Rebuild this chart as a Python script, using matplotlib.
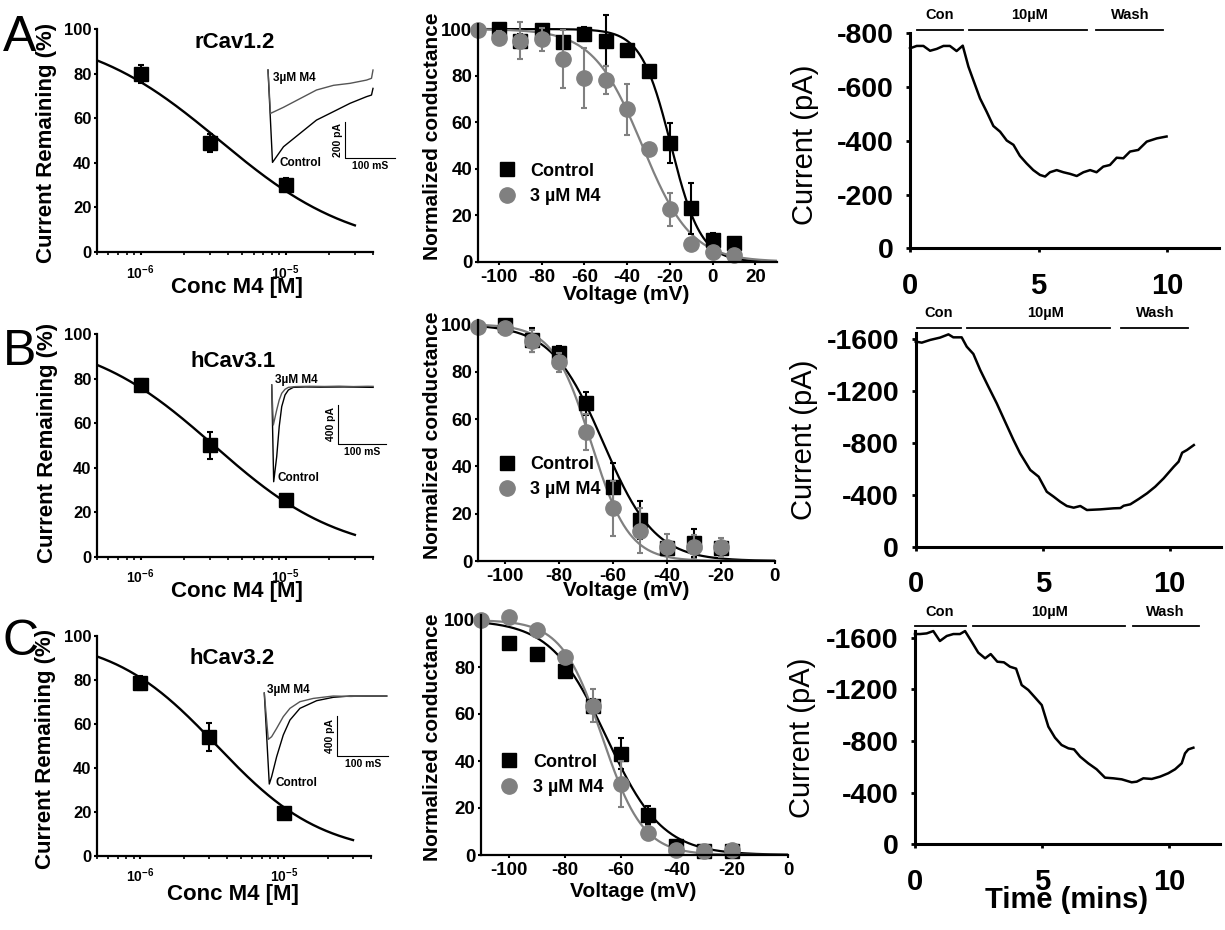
import numpy as np
import matplotlib
matplotlib.use('Agg')
import matplotlib.pyplot as plt
from matplotlib.ticker import LogLocator, FuncFormatter, NullFormatter
from matplotlib.patches import Rectangle

plt.rcParams['font.family'] = ['Liberation Sans', 'DejaVu Sans']
plt.rcParams['font.weight'] = 'bold'
plt.rcParams['axes.unicode_minus'] = False
plt.rcParams['mathtext.fontset'] = 'custom'
plt.rcParams['mathtext.rm'] = 'Liberation Sans:bold'
plt.rcParams['mathtext.bf'] = 'Liberation Sans:bold'

W, H = 1225, 930
GRAY = '#808080'

# ========================
# dose-response (left column)
# ========================
conc = [1e-6, 3e-6, 1e-5]
remain_A = [80, 49, 30]
remain_A_err = [4, 4, 3]
remain_B = [77, 50, 25.5]
remain_B_err = [3, 6, 1]
remain_C = [78.5, 54, 19.5]
remain_C_err = [3, 6.5, 1.5]
hill_A = (3.5e-6, 0.93)     # IC50, nH
hill_B = (3.2e-6, 0.985)
hill_C = (3.4e-6, 1.18)
channels = ['rCav1.2', 'hCav3.1', 'hCav3.2']

# inset traces (ms, pA)
ins_A_m4_t = [0, 5, 31, 64, 97, 131, 164, 197, 207, 210]
ins_A_m4 = [0, -241, -207, -159, -111, -85, -74, -56, -46, 0]
ins_A_ctl_t = [0, 9, 31, 64, 97, 131, 164, 197, 207, 210]
ins_A_ctl = [0, -513, -426, -352, -278, -231, -185, -148, -139, -102]
ins_B_m4_t = [0, 3.4, 10.4, 15.6, 20.8, 27.7, 34.7, 50, 80, 110, 140, 170, 200, 211]
ins_B_m4 = [10, -400, -246, -144, -75, -34, -14, -6, -3, -5, -2, -6, -3, -4]
ins_B_ctl_t = [0, 4.1, 10.4, 15.6, 20.8, 27.7, 34.7, 45, 70, 100, 150, 211]
ins_B_ctl = [10, -982, -725, -417, -212, -92, -41, -14, -10, -12, -10, -14]
ins_C_m4_t = [0, 7.8, 14.4, 24.2, 37.2, 50.3, 69.9, 96, 135, 170, 200, 240]
ins_C_m4 = [30, -437, -410, -326, -208, -124, -57, -24, 0, -4, 2, 0]
ins_C_ctl_t = [0, 9.8, 14.4, 24.2, 37.2, 50.3, 69.9, 102.6, 135, 168, 240]
ins_C_ctl = [30, -887, -813, -612, -393, -242, -124, -47, -13, 0, 0]

# ========================
# activation (middle column)
# ========================
ctl_v_A = [-100, -90, -80, -70, -60, -50, -40, -30, -20, -10, 0, 10]
ctl_g_A = [100, 95, 99.6, 94.6, 98, 95, 91, 82, 51, 23, 9.5, 8]
ctl_e_A = [2, 3, 2, 2, 3, 11, 2, 2, 8.5, 11, 3, 1]
m4_v_A = [-110, -100, -90, -80, -70, -60, -50, -40, -30, -20, -10, 0, 10]
m4_g_A = [99.6, 96, 95, 95.6, 87, 79, 78, 65.5, 48.5, 22.5, 7.5, 4, 3]
m4_e_A = [1, 3, 8, 5, 12.5, 13, 6, 11, 1, 7, 1, 1, 1]
ctl_v_B = [-100, -90, -80, -70, -60, -50, -40, -30, -20]
ctl_g_B = [99.7, 93.4, 87.7, 66.6, 31.4, 17.3, 5.4, 7.5, 5.4]
ctl_e_B = [2, 5, 3, 5, 10, 8, 2, 6, 2]
m4_v_B = [-110, -100, -90, -80, -70, -60, -50, -40, -30, -20]
m4_g_B = [99, 98.5, 93, 84, 54.5, 22.3, 12.8, 5.8, 5.8, 5.8]
m4_e_B = [1, 2, 4.6, 4, 7.7, 11.7, 9.5, 5.6, 5, 4]
ctl_v_C = [-100, -90, -80, -70, -60, -50, -40, -30, -20]
ctl_g_C = [90, 85.5, 78.3, 63.4, 43, 17, 4, 1.7, 1.8]
ctl_e_C = [1, 2, 2, 3, 6.6, 4, 1, 1, 1]
m4_v_C = [-110, -100, -90, -80, -70, -60, -50, -40, -30, -20]
m4_g_C = [100, 101.1, 95.7, 84.1, 63.5, 30.2, 9.5, 2.1, 1.5, 2]
m4_e_C = [1, 1, 1, 2, 7, 9.8, 3, 1, 1, 1]
boltz_ctl = [(-19.5, 7.0), (-63.5, 9.6), (-65.0, 10.0)]    # V50, k
boltz_m4 = [(-33.0, 11.5), (-68.0, 7.0), (-66.5, 7.3)]

# ========================
# time course (right column)
# ========================
tA = [0, 0.26, 0.52, 0.78, 1.04, 1.3, 1.55, 1.81, 2.05, 2.27, 2.46, 2.72, 2.98, 3.24, 3.5,
      3.76, 4.02, 4.27, 4.53, 4.79, 5.05, 5.25, 5.44, 5.7, 5.96, 6.22, 6.48, 6.74, 7.0, 7.25,
      7.51, 7.77, 8.03, 8.29, 8.55, 8.87, 9.2, 9.59, 9.97]
iA = [-744, -753, -753, -735, -742, -753, -753, -734, -754, -676, -626, -558, -508, -455, -434,
      -401, -385, -344, -316, -291, -273, -267, -283, -291, -283, -277, -269, -283, -291, -283,
      -304, -310, -337, -335, -360, -366, -397, -409, -416]
tB = [0, 0.24, 0.57, 0.96, 1.29, 1.48, 1.81, 2.01, 2.27, 2.54, 2.86, 3.19, 3.52, 3.85, 4.11,
      4.51, 4.84, 5.16, 5.43, 5.69, 5.95, 6.22, 6.48, 6.74, 7.27, 7.79, 8.06, 8.19, 8.45, 8.78,
      9.11, 9.43, 9.76, 10.16, 10.35, 10.49, 10.68, 10.95]
iB = [-1582, -1574, -1595, -1613, -1638, -1615, -1615, -1543, -1487, -1363, -1235, -1106, -964,
      -823, -720, -592, -540, -424, -386, -347, -314, -301, -314, -283, -288, -296, -298, -316,
      -327, -368, -412, -463, -527, -617, -656, -725, -746, -784]
tC = [0, 0.2, 0.46, 0.72, 0.98, 1.25, 1.51, 1.77, 1.97, 2.23, 2.49, 2.76, 2.98, 3.24, 3.5,
      3.74, 3.98, 4.2, 4.46, 4.72, 4.99, 5.25, 5.51, 5.77, 6.04, 6.26, 6.5, 6.82, 7.15, 7.48,
      7.81, 8.14, 8.53, 8.73, 8.99, 9.32, 9.65, 9.97, 10.24, 10.5, 10.63, 10.76, 10.96]
iC = [-1628, -1628, -1633, -1651, -1574, -1613, -1628, -1628, -1651, -1569, -1484, -1440, -1473,
      -1414, -1409, -1375, -1360, -1233, -1195, -1138, -1078, -911, -826, -769, -743, -735, -679,
      -627, -581, -516, -511, -503, -480, -485, -511, -506, -524, -550, -581, -627, -704, -735, -748]
cond_labels = ['Con', '10µM', 'Wash']
cond_span_A = [(0.26, 2.05), (2.29, 6.87), (7.23, 9.84)]
cond_span_B = [(0.04, 1.79), (2.01, 7.63), (8.08, 10.71)]
cond_span_C = [(0.0, 2.0), (2.3, 8.27), (8.6, 11.2)]


def px_box(x0, y0, x1, y1):
    return [x0 / W, 1 - y1 / H, (x1 - x0) / W, (y1 - y0) / H]


def px_text(fig, x, y, s, **kw):
    fig.text(x / W, 1 - y / H, s, ha='center', va='center', **kw)


def style_spines(ax, lw):
    ax.spines['top'].set_visible(False)
    ax.spines['right'].set_visible(False)
    ax.spines['left'].set_linewidth(lw)
    ax.spines['bottom'].set_linewidth(lw)


def hill(x, ic50, nh):
    return 100.0 / (1.0 + (x / ic50) ** nh)


def boltzmann(v, v50, k):
    return 100.0 / (1.0 + np.exp((v - v50) / k))


fig = plt.figure(figsize=(W / 100, H / 100), dpi=100)

# ---------- left column ----------
left_boxes = [(97, 29, 373, 252), (97, 334, 373, 557), (97, 635.7, 371, 855.7)]
left_data = [(remain_A, remain_A_err, hill_A), (remain_B, remain_B_err, hill_B),
             (remain_C, remain_C_err, hill_C)]
left_xpad = [6, 5, 5]
for i, (bx, (rem, err, hp)) in enumerate(zip(left_boxes, left_data)):
    ax = fig.add_axes(px_box(*bx))
    xs = np.logspace(np.log10(5e-7), np.log10(3e-5), 200)
    ax.plot(xs, hill(xs, *hp), color='black', lw=1.7)
    ax.errorbar(conc, rem, yerr=err, fmt='s', color='black', ms=10, elinewidth=1.5,
                capsize=2, capthick=1.5)
    ax.set_xscale('log')
    ax.set_xlim(5e-7, 4e-5)
    ax.set_ylim(0, 100)
    ax.set_yticks([0, 20, 40, 60, 80, 100])
    ax.xaxis.set_major_locator(LogLocator(base=10, numticks=10))
    ax.xaxis.set_minor_locator(LogLocator(base=10, subs=np.arange(2, 10), numticks=20))
    ax.xaxis.set_major_formatter(FuncFormatter(
        lambda v, p: r'$\mathbf{10^{%d}}$' % int(round(np.log10(v)))))
    ax.xaxis.set_minor_formatter(NullFormatter())
    ax.tick_params(axis='y', direction='out', length=2.5, width=1.5, labelsize=12, pad=1.5)
    ax.tick_params(axis='x', which='major', direction='out', length=2.5, width=1.5,
                   labelsize=10, pad=left_xpad[i])
    ax.tick_params(axis='x', which='minor', direction='out', length=1.8, width=1.2)
    style_spines(ax, 1.6)

px_text(fig, 47, 143, 'Current Remaining (%)', rotation=90, fontsize=16)
px_text(fig, 47.5, 443, 'Current Remaining (%)', rotation=90, fontsize=16)
px_text(fig, 46, 749, 'Current Remaining (%)', rotation=90, fontsize=16)
for (x, y) in [(236.7, 287.5), (236.7, 591), (233.3, 894)]:
    px_text(fig, x, y, 'Conc M4 [M]', fontsize=16)
for (x, y), name in zip([(235, 42.3), (233.3, 361.7), (232.3, 658.3)], channels):
    px_text(fig, x, y, name, fontsize=16)

# insets
insets = [
    dict(box=(262, 60, 400, 175), xlim=(-12, 264), ylim=(-583, 55.6),
         m4=(ins_A_m4_t, ins_A_m4), ctl=(ins_A_ctl_t, ins_A_ctl),
         bar=(154, -489), di=200, lab_m4=(10, -44), lab_ctl=(24, -517)),
    dict(box=(262, 370, 400, 490), xlim=(-20.2, 266.9), ylim=(-1067, 164),
         m4=(ins_B_m4_t, ins_B_m4), ctl=(ins_B_ctl_t, ins_B_ctl),
         bar=(138, -595), di=400, lab_m4=(6.6, 62), lab_ctl=(13, -944)),
    dict(box=(255, 675, 400, 800), xlim=(-18.2, 266), ylim=(-1048, 212),
         m4=(ins_C_m4_t, ins_C_m4), ctl=(ins_C_ctl_t, ins_C_ctl),
         bar=(143, -602), di=400, lab_m4=(5.3, 60), lab_ctl=(21, -877)),
]
for d in insets:
    ax = fig.add_axes(px_box(*d['box']))
    ax.set_xlim(*d['xlim'])
    ax.set_ylim(*d['ylim'])
    ax.axis('off')
    ax.plot(*d['ctl'], color='black', lw=1.0)
    ax.plot(*d['m4'], color='#555555', lw=1.0)
    t0, i0 = d['bar']
    di = d['di']
    ax.plot([t0, t0, t0 + 100], [i0 + di, i0, i0], color='black', lw=0.8)
    ax.annotate('%d pA' % di, xy=(t0, i0 + di / 2), xytext=(-1.5, 0), textcoords='offset points',
                rotation=90, ha='right', va='center', fontsize=7.5)
    ax.annotate('100 mS', xy=(t0 + 50, i0), xytext=(0, -2), textcoords='offset points',
                ha='center', va='top', fontsize=7.5)
    ax.text(*d['lab_m4'], '3µM M4', ha='left', va='center', fontsize=8.5)
    ax.text(*d['lab_ctl'], 'Control', ha='left', va='center', fontsize=8.5)

# ---------- middle column ----------
mid_boxes = [(477.7, 24.4, 776.7, 261.7), (477.7, 319.6, 774.7, 561), (481, 615.3, 788, 855)]
mid_xlims = [(-110, 30), (-110, 0), (-110, 0)]
mid_data = [(ctl_v_A, ctl_g_A, ctl_e_A, m4_v_A, m4_g_A, m4_e_A),
            (ctl_v_B, ctl_g_B, ctl_e_B, m4_v_B, m4_g_B, m4_e_B),
            (ctl_v_C, ctl_g_C, ctl_e_C, m4_v_C, m4_g_C, m4_e_C)]
leg_anchor = [(497.7, 162.7), (497.7, 456), (500.3, 753.7)]
for i in range(3):
    ax = fig.add_axes(px_box(*mid_boxes[i]), zorder=0)
    cv, cg, ce, mv, mg, me = mid_data[i]
    vs = np.linspace(mid_xlims[i][0], mid_xlims[i][1], 300)
    ax.plot(vs, boltzmann(vs, *boltz_ctl[i]), color='black', lw=1.6)
    ax.plot(vs, boltzmann(vs, *boltz_m4[i]), color=GRAY, lw=1.6)
    ax.errorbar(cv, cg, yerr=ce, fmt='none', ecolor='black', elinewidth=1.5, capsize=2,
                capthick=1.5, clip_on=False)
    ax.plot(cv, cg, 's', color='black', ms=10, label='Control', clip_on=False)
    ax.errorbar(mv, mg, yerr=me, fmt='none', ecolor=GRAY, elinewidth=1.5, capsize=2,
                capthick=1.5, clip_on=False)
    ax.plot(mv, mg, 'o', color=GRAY, ms=11, label='3 µM M4', clip_on=False)
    ax.set_xlim(*mid_xlims[i])
    ax.set_ylim(0, 102)
    ax.set_yticks([0, 20, 40, 60, 80, 100])
    ax.set_xticks(np.arange(-100, mid_xlims[i][1] + 1, 20))
    ax.tick_params(axis='y', direction='out', length=2.5, width=1.5, labelsize=13.5, pad=1.5)
    ax.tick_params(axis='x', direction='out', length=2.5, width=1.5, labelsize=13.5, pad=2.5)
    style_spines(ax, 1.6)
    lx, ly = leg_anchor[i]
    ax.legend(loc='upper left', bbox_to_anchor=(lx / W, 1 - ly / H),
              bbox_transform=fig.transFigure, frameon=False, numpoints=1,
              handlelength=1.0, handletextpad=0.8, labelspacing=0.45, borderpad=0,
              borderaxespad=0, prop={'weight': 'bold', 'size': 13})

for (x, y) in [(433, 136.5), (433, 435), (433, 737)]:
    px_text(fig, x, y, 'Normalized conductance', rotation=90, fontsize=15)
for (x, y) in [(626, 295), (626, 590), (633.3, 891.7)]:
    px_text(fig, x, y, 'Voltage (mV)', fontsize=15)

# the original third panel is cropped at its right edge
fig.add_artist(Rectangle((788.5 / W, 1 - 808 / H), 8 / W, 30 / H, transform=fig.transFigure,
                         facecolor='white', edgecolor='none', zorder=0.5))

# ---------- right column ----------
right_boxes = [(910, 33.3, 1218.8, 248.3), (915.7, 332.8, 1220.5, 546.7),
               (915, 631.2, 1219.8, 844.3)]
right_data = [(tA, iA, cond_span_A), (tB, iB, cond_span_B), (tC, iC, cond_span_C)]
right_ylim = [-800, -1650, -1650]
right_yticks = [[0, -200, -400, -600, -800], [0, -400, -800, -1200, -1600],
                [0, -400, -800, -1200, -1600]]
cond_bar_y = [-812, -1690, -1692]
cond_text_y = [-868, -1800, -1795]
cond_text_x = [[1.17, 4.66, 8.55], [0.89, 5.1, 9.43], [0.98, 5.3, 9.84]]
for i in range(3):
    ax = fig.add_axes(px_box(*right_boxes[i]), zorder=1)
    t, cur, spans = right_data[i]
    ax.plot(t, cur, color='black', lw=1.8, clip_on=False)
    for (s0, s1) in spans:
        ax.plot([s0, s1], [cond_bar_y[i]] * 2, color='black', lw=1.3, clip_on=False)
    for lab, tx in zip(cond_labels, cond_text_x[i]):
        ax.text(tx, cond_text_y[i], lab, ha='center', va='center', fontsize=10.5)
    ax.set_xlim(0, 12)
    ax.set_ylim(0, right_ylim[i])
    ax.set_yticks(right_yticks[i])
    ax.set_xticks([0, 5, 10])
    ax.tick_params(axis='y', direction='out', length=3, width=2, labelsize=20.5, pad=9)
    ax.tick_params(axis='x', direction='out', length=3, width=2, labelsize=21, pad=14)
    style_spines(ax, 2.2)

for (x, y) in [(805, 145), (804, 439.5), (802, 738)]:
    px_text(fig, x, y, 'Current (pA)', rotation=90, fontsize=21, fontweight='normal')
px_text(fig, 1067, 900, 'Time (mins)', fontsize=21)

# panel letters
for (x, y), s in zip([(20, 38), (20, 352), (21, 642)], ['A', 'B', 'C']):
    px_text(fig, x, y, s, fontsize=36, fontweight='normal')

plt.savefig('out.png', dpi=100)
